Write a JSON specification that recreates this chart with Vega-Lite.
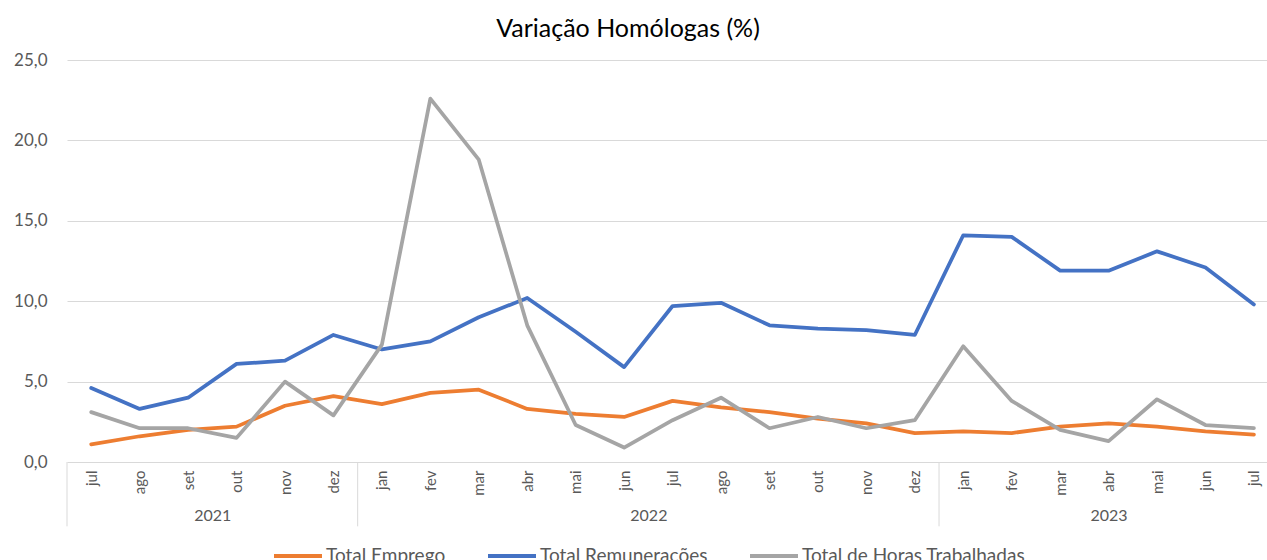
{
  "$schema": "https://vega.github.io/schema/vega-lite/v6.json",
  "width": 1200,
  "height": 402,
  "autosize": {"type": "none"},
  "padding": {"left": 67, "top": 60, "right": 0, "bottom": 98},
  "background": "white",
  "title": {
    "text": "Variação Homólogas (%)",
    "fontSize": 25,
    "font": "Lato",
    "fontWeight": "normal",
    "color": "#000000",
    "anchor": "middle",
    "dx": -39,
    "offset": 9
  },
  "config": {
    "font": "Lato",
    "view": {"stroke": null},
    "axis": {"labelFont": "Lato", "labelColor": "#595959"},
    "legend": {"labelFont": "Lato", "labelColor": "#595959"}
  },
  "datasets": {
    "series": [
      {"i": 0, "serie": "Total Emprego", "valor": 1.1},
      {"i": 1, "serie": "Total Emprego", "valor": 1.6},
      {"i": 2, "serie": "Total Emprego", "valor": 2.0},
      {"i": 3, "serie": "Total Emprego", "valor": 2.2},
      {"i": 4, "serie": "Total Emprego", "valor": 3.5},
      {"i": 5, "serie": "Total Emprego", "valor": 4.1},
      {"i": 6, "serie": "Total Emprego", "valor": 3.6},
      {"i": 7, "serie": "Total Emprego", "valor": 4.3},
      {"i": 8, "serie": "Total Emprego", "valor": 4.5},
      {"i": 9, "serie": "Total Emprego", "valor": 3.3},
      {"i": 10, "serie": "Total Emprego", "valor": 3.0},
      {"i": 11, "serie": "Total Emprego", "valor": 2.8},
      {"i": 12, "serie": "Total Emprego", "valor": 3.8},
      {"i": 13, "serie": "Total Emprego", "valor": 3.4},
      {"i": 14, "serie": "Total Emprego", "valor": 3.1},
      {"i": 15, "serie": "Total Emprego", "valor": 2.7},
      {"i": 16, "serie": "Total Emprego", "valor": 2.4},
      {"i": 17, "serie": "Total Emprego", "valor": 1.8},
      {"i": 18, "serie": "Total Emprego", "valor": 1.9},
      {"i": 19, "serie": "Total Emprego", "valor": 1.8},
      {"i": 20, "serie": "Total Emprego", "valor": 2.2},
      {"i": 21, "serie": "Total Emprego", "valor": 2.4},
      {"i": 22, "serie": "Total Emprego", "valor": 2.2},
      {"i": 23, "serie": "Total Emprego", "valor": 1.9},
      {"i": 24, "serie": "Total Emprego", "valor": 1.7},
      {"i": 0, "serie": "Total Remunerações", "valor": 4.6},
      {"i": 1, "serie": "Total Remunerações", "valor": 3.3},
      {"i": 2, "serie": "Total Remunerações", "valor": 4.0},
      {"i": 3, "serie": "Total Remunerações", "valor": 6.1},
      {"i": 4, "serie": "Total Remunerações", "valor": 6.3},
      {"i": 5, "serie": "Total Remunerações", "valor": 7.9},
      {"i": 6, "serie": "Total Remunerações", "valor": 7.0},
      {"i": 7, "serie": "Total Remunerações", "valor": 7.5},
      {"i": 8, "serie": "Total Remunerações", "valor": 9.0},
      {"i": 9, "serie": "Total Remunerações", "valor": 10.2},
      {"i": 10, "serie": "Total Remunerações", "valor": 8.1},
      {"i": 11, "serie": "Total Remunerações", "valor": 5.9},
      {"i": 12, "serie": "Total Remunerações", "valor": 9.7},
      {"i": 13, "serie": "Total Remunerações", "valor": 9.9},
      {"i": 14, "serie": "Total Remunerações", "valor": 8.5},
      {"i": 15, "serie": "Total Remunerações", "valor": 8.3},
      {"i": 16, "serie": "Total Remunerações", "valor": 8.2},
      {"i": 17, "serie": "Total Remunerações", "valor": 7.9},
      {"i": 18, "serie": "Total Remunerações", "valor": 14.1},
      {"i": 19, "serie": "Total Remunerações", "valor": 14.0},
      {"i": 20, "serie": "Total Remunerações", "valor": 11.9},
      {"i": 21, "serie": "Total Remunerações", "valor": 11.9},
      {"i": 22, "serie": "Total Remunerações", "valor": 13.1},
      {"i": 23, "serie": "Total Remunerações", "valor": 12.1},
      {"i": 24, "serie": "Total Remunerações", "valor": 9.8},
      {"i": 0, "serie": "Total de Horas Trabalhadas", "valor": 3.1},
      {"i": 1, "serie": "Total de Horas Trabalhadas", "valor": 2.1},
      {"i": 2, "serie": "Total de Horas Trabalhadas", "valor": 2.1},
      {"i": 3, "serie": "Total de Horas Trabalhadas", "valor": 1.5},
      {"i": 4, "serie": "Total de Horas Trabalhadas", "valor": 5.0},
      {"i": 5, "serie": "Total de Horas Trabalhadas", "valor": 2.9},
      {"i": 6, "serie": "Total de Horas Trabalhadas", "valor": 7.3},
      {"i": 7, "serie": "Total de Horas Trabalhadas", "valor": 22.6},
      {"i": 8, "serie": "Total de Horas Trabalhadas", "valor": 18.8},
      {"i": 9, "serie": "Total de Horas Trabalhadas", "valor": 8.5},
      {"i": 10, "serie": "Total de Horas Trabalhadas", "valor": 2.3},
      {"i": 11, "serie": "Total de Horas Trabalhadas", "valor": 0.9},
      {"i": 12, "serie": "Total de Horas Trabalhadas", "valor": 2.6},
      {"i": 13, "serie": "Total de Horas Trabalhadas", "valor": 4.0},
      {"i": 14, "serie": "Total de Horas Trabalhadas", "valor": 2.1},
      {"i": 15, "serie": "Total de Horas Trabalhadas", "valor": 2.8},
      {"i": 16, "serie": "Total de Horas Trabalhadas", "valor": 2.1},
      {"i": 17, "serie": "Total de Horas Trabalhadas", "valor": 2.6},
      {"i": 18, "serie": "Total de Horas Trabalhadas", "valor": 7.2},
      {"i": 19, "serie": "Total de Horas Trabalhadas", "valor": 3.8},
      {"i": 20, "serie": "Total de Horas Trabalhadas", "valor": 2.0},
      {"i": 21, "serie": "Total de Horas Trabalhadas", "valor": 1.3},
      {"i": 22, "serie": "Total de Horas Trabalhadas", "valor": 3.9},
      {"i": 23, "serie": "Total de Horas Trabalhadas", "valor": 2.3},
      {"i": 24, "serie": "Total de Horas Trabalhadas", "valor": 2.1}
    ],
    "separadores": [
      {"s": -0.5},
      {"s": 5.5},
      {"s": 17.5}
    ]
  },
  "layer": [
    {
      "data": {"name": "series"},
      "mark": {"type": "line", "strokeWidth": 3.75, "strokeJoin": "round", "strokeCap": "round"},
      "encoding": {
        "x": {
          "field": "i",
          "type": "quantitative",
          "scale": {"domain": [-0.5, 24.27], "nice": false, "zero": false},
          "axis": {
            "orient": "bottom",
            "title": null,
            "values": [0,1,2,3,4,5,6,7,8,9,10,11,12,13,14,15,16,17,18,19,20,21,22,23,24],
            "labelExpr": "['jul','ago','set','out','nov','dez','jan','fev','mar','abr','mai','jun','jul','ago','set','out','nov','dez','jan','fev','mar','abr','mai','jun','jul'][datum.value]",
            "labelAngle": -90,
            "labelFontSize": 15,
            "labelPadding": 8,
            "grid": false,
            "ticks": false,
            "domain": false,
            "labelFlush": false,
            "labelOverlap": false
          }
        },
        "y": {
          "field": "valor",
          "type": "quantitative",
          "scale": {"domain": [0, 25], "nice": false},
          "axis": {
            "title": null,
            "values": [0, 5, 10, 15, 20, 25],
            "labelExpr": "replace(format(datum.value, '.1f'), '.', ',')",
            "labelFontSize": 17,
            "labelPadding": 20,
            "ticks": false,
            "domain": false,
            "grid": true,
            "gridColor": "#d9d9d9",
            "gridWidth": 1
          }
        },
        "color": {
          "field": "serie",
          "type": "nominal",
          "scale": {
            "domain": ["Total Emprego", "Total Remunerações", "Total de Horas Trabalhadas"],
            "range": ["#ED7D31", "#4472C4", "#A5A5A5"]
          },
          "legend": {
            "title": null,
            "orient": "none",
            "direction": "horizontal",
            "legendX": 205,
            "legendY": 470,
            "symbolType": "stroke",
            "symbolSize": 2304,
            "symbolStrokeWidth": 4,
            "labelFontSize": 19,
            "labelOffset": 2,
            "labelLimit": 0,
            "columnPadding": 34
          }
        }
      }
    },
    {
      "data": {"name": "separadores"},
      "mark": {"type": "rule", "color": "#d9d9d9", "strokeWidth": 1, "clip": false},
      "encoding": {
        "x": {
          "field": "s",
          "type": "quantitative",
          "scale": {"domain": [-0.5, 24.27], "nice": false, "zero": false},
          "axis": {
            "orient": "bottom",
            "title": null,
            "values": [2.5, 11.5, 21],
            "labelExpr": "datum.value == 2.5 ? '2021' : datum.value == 11.5 ? '2022' : '2023'",
            "labelFontSize": 16,
            "labelPadding": 0,
            "labelBaseline": "top",
            "offset": 45,
            "grid": false,
            "ticks": false,
            "domain": false,
            "labelFlush": false
          }
        },
        "y": {"datum": 0, "type": "quantitative", "scale": {"domain": [0, 25], "nice": false}},
        "y2": {"datum": -4}
      }
    }
  ],
  "resolve": {"axis": {"x": "independent"}}
}
